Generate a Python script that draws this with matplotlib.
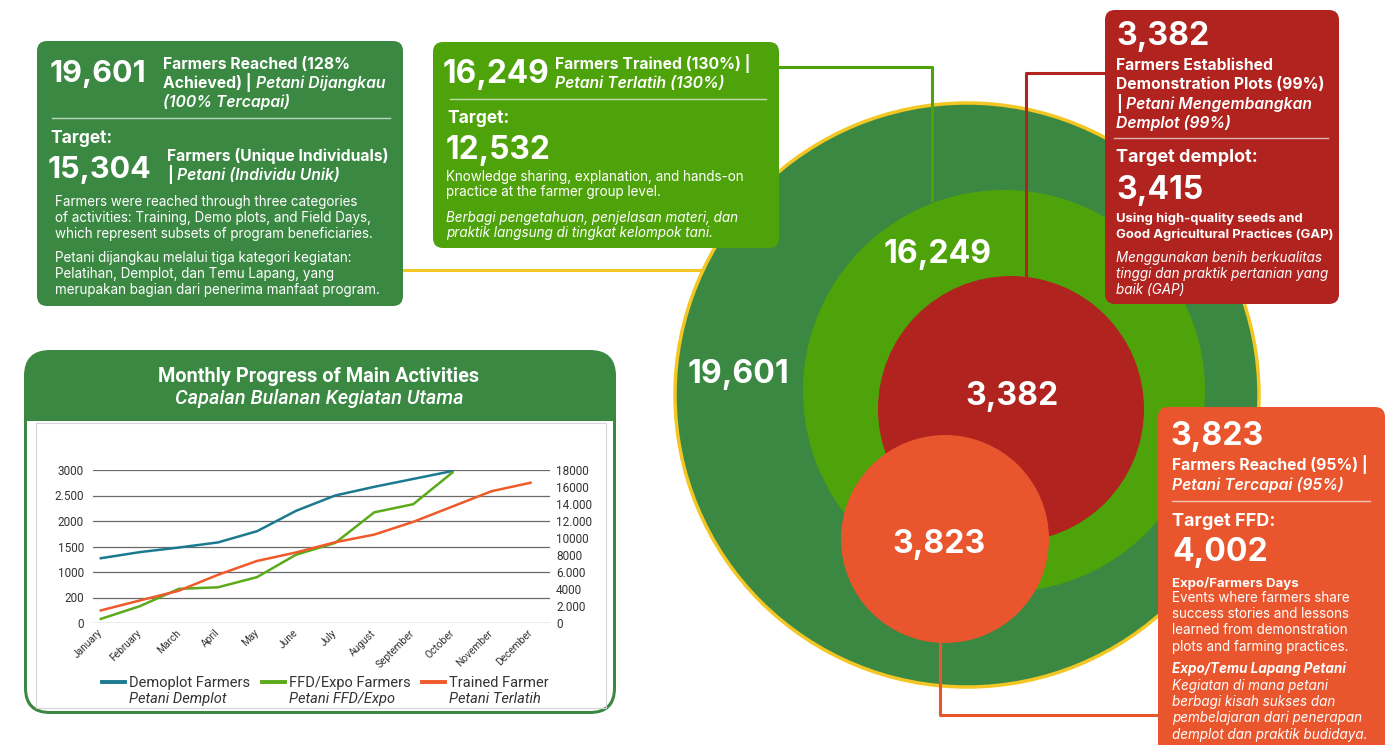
import numpy as np
import matplotlib
matplotlib.use("Agg")
import matplotlib.pyplot as plt
from matplotlib.patches import FancyBboxPatch, Circle, Rectangle
from matplotlib.transforms import ScaledTranslation

# ---- data -------------------------------------------------------------
months = ["January", "February", "March", "April", "May", "June", "July",
          "August", "September", "October", "November", "December"]
demoplot = [1270, 1390, 1480, 1580, 1800, 2200, 2500, 2670, 2825, 2980]
ffd_expo = [80, 330, 670, 700, 900, 1340, 1570, 2170, 2330, 2950]
trained = [1480, 2650, 3800, 5670, 7300, 8300, 9500, 10400, 11900, 13700,
           15500, 16500]

left_ticks = [0, 500, 1000, 1500, 2000, 2500, 3000]
left_labels = ["0", "200", "1000", "1500", "2000", "2.500", "3000"]
right_ticks = [0, 2000, 4000, 6000, 8000, 10000, 12000, 14000, 16000, 18000]
right_labels = ["0", "2.000", "4000", "6.000", "8000", "10000", "12.000",
                "14.000", "16000", "18000"]

venn_labels = ["19,601", "16,249", "3,382", "3,823"]

# ---- colours / fonts ---------------------------------------------------
DKGREEN = "#3A8842"
GREEN = "#4FA30A"
RED = "#B0231F"
ORANGE = "#E9552C"
YELLOW = "#F3C623"
C_BLUE = "#1C7A90"
C_GREEN = "#5BAA1A"
C_ORANGE = "#EE5A2A"
FONT = "Inter"
CFONT = "Roboto"

W, H = 1386, 745
fig = plt.figure(figsize=(W / 100, H / 100), dpi=100)
bg = fig.add_axes([0, 0, 1, 1])
bg.set_xlim(0, W)
bg.set_ylim(H, 0)
bg.axis("off")
renderer = fig.canvas.get_renderer()

HEAD = 11.3   # bold headline size
BODY = 9.7    # paragraph size


def put(x, yc, s, size, weight="normal", style="normal", color="white",
        ha="left", family=FONT, z=12):
    # yc is the middle of the capitals, in pixels
    return bg.text(x, yc + 0.36 * size * 100 / 72, s, fontsize=size,
                   fontweight=weight, fontstyle=style, color=color, ha=ha,
                   va="baseline", family=family, zorder=z)


def rich(x, yc, parts, size, color="white"):
    gap = 0.28 * size * 100 / 72
    for s, weight, style in parts:
        t = put(x, yc, s, size, weight, style, color)
        x += t.get_window_extent(renderer).width + gap


def box(x0, y0, x1, y1, color, r=10, z=10):
    bg.add_patch(FancyBboxPatch((x0, y0), x1 - x0, y1 - y0,
                                boxstyle=f"round,pad=0,rounding_size={r}",
                                fc=color, ec="none", zorder=z))


def sep(x0, x1, y):
    bg.plot([x0, x1], [y, y], color="white", alpha=0.65, lw=1, zorder=11)


# ---- venn circles + connectors -----------------------------------------
bg.plot([403, 705], [270, 270], color=YELLOW, lw=2.2, zorder=1)
bg.add_patch(Circle((967, 395), 292, fc=DKGREEN, ec=YELLOW, lw=2.5, zorder=2))
bg.plot([779, 932, 932], [67, 67, 200], color=GREEN, lw=2.2, zorder=3)
bg.add_patch(Circle((1004, 391), 201, fc=GREEN, ec="none", zorder=4))
bg.plot([1105, 1026, 1026], [73, 73, 285], color=RED, lw=2.2, zorder=5)
bg.add_patch(Circle((1011, 409), 133, fc=RED, ec="none", zorder=6))
bg.plot([940, 940, 1160], [630, 715, 715], color=ORANGE, lw=2.2, zorder=6.5)
bg.add_patch(Circle((945, 539), 104, fc=ORANGE, ec="none", zorder=7))

for (cx, cy), lab in zip([(738, 372), (938, 252), (1012, 394), (939, 542)],
                         venn_labels):
    put(cx, cy, lab, 23, "bold", ha="center", z=8)

# ---- box 1 : farmers reached -------------------------------------------
box(37, 41, 403, 306, DKGREEN)
put(50, 71, "19,601", 22, "bold")
rich(163, 63, [("Farmers Reached (128%", "bold", "normal")], HEAD)
rich(163, 82, [("Achieved) |", "bold", "normal"),
               ("Petani Dijangkau", "semibold", "italic")], HEAD)
rich(163, 101, [("(100% Tercapai)", "semibold", "italic")], HEAD)
sep(52, 390, 118)
put(50, 137, "Target:", 12.5, "bold")
put(48, 167, "15,304", 22, "bold")
rich(167, 155, [("Farmers (Unique Individuals)", "bold", "normal")], HEAD)
rich(167, 174, [("|", "bold", "normal"),
                ("Petani (Individu Unik)", "semibold", "italic")], HEAD)
para1 = ["Farmers were reached through three categories",
         "of activities: Training, Demo plots, and Field Days,",
         "which represent subsets of program beneficiaries."]
para1_id = ["Petani dijangkau melalui tiga kategori kegiatan:",
            "Pelatihan, Demplot, dan Temu Lapang, yang",
            "merupakan bagian dari penerima manfaat program."]
for i, s in enumerate(para1):
    put(55, 201 + 16 * i, s, BODY)
for i, s in enumerate(para1_id):
    put(55, 257 + 16 * i, s, BODY)

# ---- box 2 : trained ---------------------------------------------------
box(433, 42, 779, 248, GREEN)
put(443, 72, "16,249", 22.8, "bold")
rich(555, 63, [("Farmers Trained (130%) |", "bold", "normal")], HEAD)
rich(555, 82, [("Petani Terlatih (130%)", "semibold", "italic")], HEAD)
sep(450, 766, 99)
put(447, 117, "Target:", 12.5, "bold")
put(446, 148, "12,532", 22.8, "bold")
put(446, 176, "Knowledge sharing, explanation, and hands-on", BODY)
put(446, 191, "practice at the farmer group level.", BODY)
put(446, 217, "Berbagi pengetahuan, penjelasan materi, dan", BODY, style="italic")
put(446, 232, "praktik langsung di tingkat kelompok tani.", BODY, style="italic")

# ---- box 3 : demplot ---------------------------------------------------
box(1105, 10, 1339, 304, RED)
put(1116, 34, "3,382", 23, "bold")
rich(1116, 64, [("Farmers Established", "bold", "normal")], HEAD)
rich(1116, 83, [("Demonstration Plots (99%)", "bold", "normal")], HEAD)
rich(1116, 103, [("|", "bold", "normal"),
                 ("Petani Mengembangkan", "semibold", "italic")], HEAD)
rich(1116, 122, [("Demplot (99%)", "semibold", "italic")], HEAD)
sep(1114, 1328, 138)
put(1116, 156, "Target demplot:", 13, "bold")
put(1116, 187, "3,415", 23, "bold")
put(1116, 217, "Using high-quality seeds and", 9.4, "bold")
put(1116, 233, "Good Agricultural Practices (GAP)", 9.4, "bold")
for i, s in enumerate(["Menggunakan benih berkualitas",
                       "tinggi dan praktik pertanian yang",
                       "baik (GAP)"]):
    put(1116, 257 + 16 * i, s, BODY, style="italic")

# ---- box 4 : FFD -------------------------------------------------------
box(1158, 407, 1385, 770, ORANGE)
put(1170, 433, "3,823", 23, "bold")
rich(1172, 464, [("Farmers Reached (95%) |", "bold", "normal")], HEAD)
rich(1172, 484, [("Petani Tercapai (95%)", "semibold", "italic")], HEAD)
sep(1172, 1370, 501)
put(1172, 520, "Target FFD:", 13, "bold")
put(1172, 549, "4,002", 23, "bold")
put(1172, 582, "Expo/Farmers Days", 9.5, "bold")
for i, s in enumerate(["Events where farmers share",
                       "success stories and lessons",
                       "learned from demonstration",
                       "plots and farming practices."]):
    put(1172, 597 + 16.3 * i, s, BODY)
put(1172, 668, "Expo/Temu Lapang Petani", BODY, "bold", "italic")
for i, s in enumerate(["Kegiatan di mana petani",
                       "berbagi kisah sukses dan",
                       "pembelajaran dari penerapan",
                       "demplot dan praktik budidaya."]):
    put(1172, 685 + 16.3 * i, s, BODY, style="italic")

# ---- chart panel -------------------------------------------------------
box(24, 350, 616, 714, DKGREEN, r=26, z=1)
box(27, 421, 613, 711, "white", r=23, z=1.1)
bg.add_patch(Rectangle((27, 421), 586, 40, fc="white", ec="none", zorder=1.2))
bg.add_patch(Rectangle((36, 423), 570, 285, fc="none", ec="#D5D5D5", lw=0.8,
                       zorder=1.3))
put(319, 375, "Monthly Progress of Main Activities", 14.3, "bold",
    ha="center", family=CFONT)
put(319, 397, "Capaian Bulanan Kegiatan Utama", 14.3, "medium", "italic",
    ha="center", family=CFONT)

ax = fig.add_axes([93 / W, (H - 623) / H, (550 - 93) / W, (623 - 470) / H])
ax.patch.set_alpha(0)
x = np.arange(len(months))
ax.plot(x[:len(demoplot)], demoplot, color=C_BLUE, lw=1.8, zorder=3)
ax.plot(x[:len(ffd_expo)], ffd_expo, color=C_GREEN, lw=1.8, zorder=3)
ax.set_xlim(-0.2, 11.5)
ax.set_ylim(0, 3000)
ax.set_yticks(left_ticks)
ax.set_yticklabels(left_labels)
ax.yaxis.grid(True, color="#6A6A6A", lw=0.9)
ax.set_axisbelow(True)
ax.set_xticks(x)
ax.set_xticklabels(months, rotation=45, ha="right", va="center",
                   rotation_mode="anchor", fontsize=7.3, family=CFONT,
                   color="#333333")
for lbl in ax.get_xticklabels():
    lbl.set_transform(lbl.get_transform() +
                      ScaledTranslation(10 / 100, 0, fig.dpi_scale_trans))
ax.tick_params(axis="x", length=0, pad=6)
ax.tick_params(axis="y", length=0, pad=6.5, labelsize=8.5, labelcolor="#333333")
for t in ax.get_yticklabels():
    t.set_family(CFONT)
for sp in ax.spines.values():
    sp.set_visible(False)

ax2 = ax.twinx()
ax2.plot(x[:len(trained)], trained, color=C_ORANGE, lw=1.8)
ax2.set_ylim(0, 18000)
ax2.set_yticks(right_ticks)
ax2.set_yticklabels(right_labels)
ax2.tick_params(axis="y", length=0, pad=4.3, labelsize=8.5, labelcolor="#333333")
for t in ax2.get_yticklabels():
    t.set_family(CFONT)
for sp in ax2.spines.values():
    sp.set_visible(False)

legend = [("Demoplot Farmers", "Petani Demplot", C_BLUE, 102),
          ("FFD/Expo Farmers", "Petani FFD/Expo", C_GREEN, 262),
          ("Trained Farmer", "Petani Terlatih", C_ORANGE, 422)]
for name, name_id, col, lx in legend:
    bg.plot([lx, lx + 23], [682, 682], color=col, lw=2.8, zorder=12)
    put(lx + 27, 682, name, 10.5, color="#333333", family=CFONT)
    put(lx + 27, 698, name_id, 10.5, style="italic", color="#333333",
        family=CFONT)

fig.savefig("out.png", dpi=100)
